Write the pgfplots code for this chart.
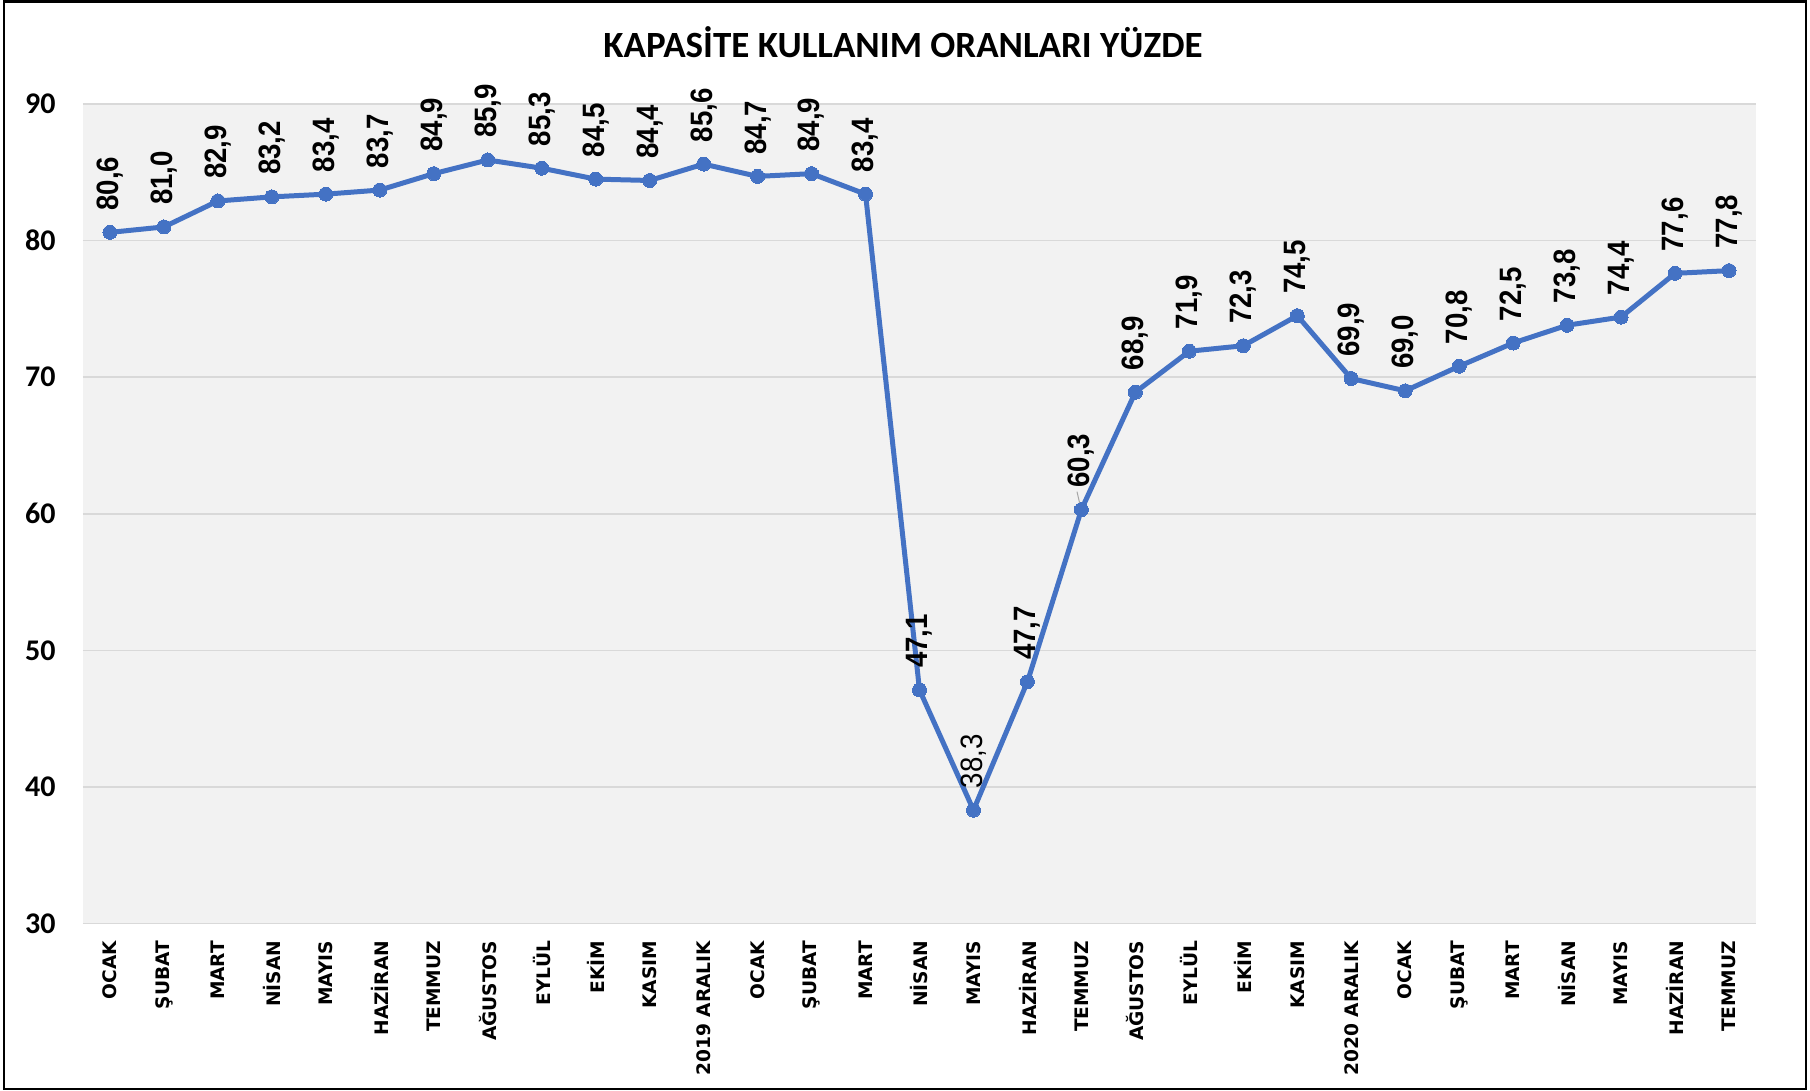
\documentclass[border=0pt]{standalone}
\usepackage{fontspec}
\setmainfont{Carlito}
\newfontfamily\dvfont{DejaVu Sans}
\newfontfamily\libfont{Liberation Sans}
\usepackage{pgfplots}
\usepackage{pgfplotstable}
\pgfplotsset{compat=1.18}
\definecolor{lineblue}{HTML}{4472C4}
\definecolor{bggray}{HTML}{F2F2F2}
\definecolor{gridgray}{HTML}{D9D9D9}
\pgfplotstableread{
x y lab
0 80.6 80,6
1 81.0 81,0
2 82.9 82,9
3 83.2 83,2
4 83.4 83,4
5 83.7 83,7
6 84.9 84,9
7 85.9 85,9
8 85.3 85,3
9 84.5 84,5
10 84.4 84,4
11 85.6 85,6
12 84.7 84,7
13 84.9 84,9
14 83.4 83,4
15 47.1 47,1
16 38.3 \mdseries38,3
17 47.7 47,7
18 60.3 60,3
19 68.9 68,9
20 71.9 71,9
21 72.3 72,3
22 74.5 74,5
23 69.9 69,9
24 69.0 69,0
25 70.8 70,8
26 72.5 72,5
27 73.8 73,8
28 74.4 74,4
29 77.6 77,6
30 77.8 77,8
}\kapasite
\begin{document}
\begin{tikzpicture}
\useasboundingbox (0,0) rectangle (905pt,545.5pt);
\draw[black, line width=1.2pt] (2pt,1pt) rectangle (903pt,544.7pt);
\node[anchor=base, font=\bfseries\fontsize{18.5}{18.5}\selectfont] at (451.5pt,516.5pt) {KAPASİTE KULLANIM ORANLARI YÜZDE};
\begin{axis}[
  at={(41.5pt,83.75pt)}, anchor=south west,
  width=836.5pt, height=409.75pt, scale only axis,
  xmin=-0.5, xmax=30.5, ymin=30, ymax=90,
  ytick={30,40,50,60,70,80,90},
  xtick={0,...,30},
  xticklabels={OCAK,ŞUBAT,MART,NİSAN,MAYIS,HAZİRAN,TEMMUZ,AĞUSTOS,EYLÜL,EKİM,KASIM,2019 ARALIK,OCAK,ŞUBAT,MART,NİSAN,MAYIS,HAZİRAN,TEMMUZ,AĞUSTOS,EYLÜL,EKİM,KASIM,2020 ARALIK,OCAK,ŞUBAT,MART,NİSAN,MAYIS,HAZİRAN,TEMMUZ},
  axis line style={draw=none},
  major tick length=0pt,
  ymajorgrids,
  grid style={gridgray, line width=0.8pt},
  axis background/.style={fill=bggray},
  /pgf/number format/assume math mode=true,
  yticklabel style={font=\bfseries\fontsize{15}{15}\selectfont, anchor=east, inner sep=0pt, xshift=-13.5pt},
  xticklabel style={font=\dvfont\bfseries\fontsize{9.3}{9.3}\selectfont, rotate=90, anchor=east, inner xsep=8.5pt, inner ysep=0pt},
  clip=false,
]
\addplot[lineblue, line width=2.5pt, mark=*, mark size=3.5pt,
  mark options={fill=lineblue, draw=lineblue, line width=0pt},
  point meta=explicit symbolic,
  nodes near coords,
  every node near coord/.append style={rotate=90, yscale=1.12, anchor=west, inner xsep=11pt, inner ysep=0pt, black, font=\libfont\bfseries\fontsize{13.8}{13.8}\selectfont},
] table[x=x, y=y, meta=lab] {\kapasite};
\draw[gray!70, line width=0.5pt] (axis cs:18,60.3) ++(-0.6pt,2pt) -- ++(-1.6pt,7pt);
\end{axis}
\end{tikzpicture}
\end{document}
